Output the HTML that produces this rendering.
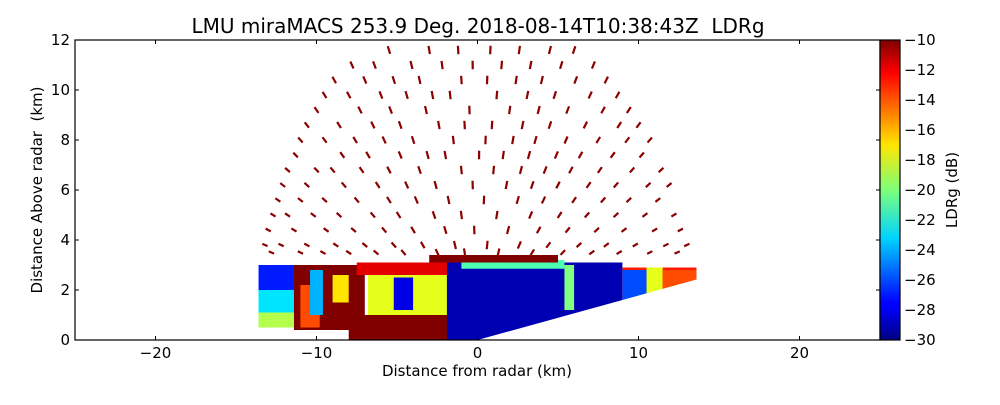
<!DOCTYPE html>
<html><head><meta charset="utf-8">
<style>
body{margin:0;background:#fff;}
svg text{font-family:"DejaVu Sans","Liberation Sans",sans-serif;fill:#000;}
</style></head>
<body>
<svg id="chart" width="1000" height="400" viewBox="0 0 1000 400" xmlns="http://www.w3.org/2000/svg">
<defs>
<linearGradient id="jet" x1="0" y1="1" x2="0" y2="0">
<stop offset="0" stop-color="#00007f"/><stop offset="0.11" stop-color="#0000ff"/>
<stop offset="0.125" stop-color="#0000ff"/><stop offset="0.34" stop-color="#00d4ff"/>
<stop offset="0.5" stop-color="#7dff7a"/><stop offset="0.65" stop-color="#ffe600"/>
<stop offset="0.89" stop-color="#ff0000"/><stop offset="1" stop-color="#7f0000"/>
</linearGradient>
<clipPath id="plotclip"><rect x="75" y="40" width="805" height="300"/></clipPath>
</defs>
<text x="478" y="33" font-size="20" text-anchor="middle" xml:space="preserve">LMU miraMACS 253.9 Deg. 2018-08-14T10:38:43Z&#160; LDRg</text>
<g id="data" clip-path="url(#plotclip)"></g>
<g id="axes"></g>
<rect x="75" y="40" width="805" height="300" fill="none" stroke="#000" stroke-width="1.2"/>
<rect x="880" y="40" width="20" height="300" fill="url(#jet)" stroke="#000" stroke-width="1.2"/>
<text x="477" y="376" font-size="15" text-anchor="middle">Distance from radar (km)</text>
<text transform="translate(42,190) rotate(-90)" font-size="15" text-anchor="middle">Distance Above radar&#160; (km)</text>
<text transform="translate(957,190) rotate(-90)" font-size="15" text-anchor="middle">LDRg (dB)</text>
</svg>
<script>
// axis domains
const xTicks = [-20, -10, 0, 10, 20];
const yTicks = [0, 2, 4, 6, 8, 10, 12];
const cbTicks = [-10, -12, -14, -16, -18, -20, -22, -24, -26, -28, -30];
// low-layer precipitation regions (km) and LDR value (dB)
const layerX0 = [-13.6, -13.6, -13.6, -11.4, -11.0, -10.4, -9.0, -8.0, -6.8, -7.5, -5.2, -1.9, -1.0, 5.4, 9.0, 9.0, 10.5, 11.5, -3.0];
const layerX1 = [-11.4, -11.4, -11.4, -7.0, -9.8, -9.6, -8.0, -1.5, -1.5, -1.5, -4.0, 9.0, 5.4, 6.0, 13.6, 10.5, 11.5, 13.6, 5.0];
const layerY0 = [0.5, 1.1, 2.0, 0.4, 0.5, 1.0, 1.5, 0.0, 1.0, 2.6, 1.2, 0.0, 2.85, 1.2, 1.6, 1.6, 1.6, 1.6, 3.1];
const layerY1 = [1.1, 2.0, 3.0, 3.0, 2.2, 2.8, 2.6, 1.0, 2.6, 3.1, 2.5, 3.1, 3.2, 3.0, 2.9, 2.8, 2.9, 2.8, 3.4];
const layerVal = [-19, -23, -27, -10, -14, -24, -17, -10, -18, -12, -28, -29, -21, -20, -13, -26, -18, -14, -10];
// scattered cloud echoes: rows of heights with x positions (km)
const dashRowsY = [11.6, 11.0, 10.4, 9.8, 9.2, 8.6, 8.0, 7.4, 6.8, 6.2, 5.6, 5.0, 4.4, 3.8, 3.5];
const dashRowsX = [
 [-5.5,-3,-1.2,0.8,2.6,4.5,6],
 [-7.8,-6.4,-4.1,-2.2,-0.3,1.5,3.3,5.2,7.2],
 [-8.9,-7,-5.2,-3.6,-1,0.6,2.4,4,6.1,8],
 [-9.5,-8,-6,-4.4,-2.8,-1.7,1.2,3.1,4.8,7,8.7],
 [-10,-7.3,-5.4,-3.2,-0.5,2,3.8,5.6,7.8,9.4],
 [-10.6,-8.6,-6.5,-4.8,-2.4,-0.8,0.9,2.8,4.5,6.7,8.8,10],
 [-11,-9.5,-7.6,-5.8,-4,-1.5,0.5,2.2,3.6,5.5,7.5,9.3,10.7],
 [-11.3,-8.4,-6.8,-4.8,-3.1,-2,0.1,1.6,3.2,4.9,6.4,8.4,10.2],
 [-11.8,-10,-9,-7.2,-5.5,-3.6,-1,1,2.7,4.2,5.8,7.6,9.6,11.4],
 [-12.1,-10.6,-8.3,-6.2,-4.4,-2.6,-0.3,1.8,3.4,5,6.9,8.6,10.6,11.9],
 [-12.4,-11,-9.5,-7.5,-5.5,-3.8,-1.8,0.4,2.5,4.1,6,7.8,9.4,11.2],
 [-12.7,-11.8,-10.2,-8.6,-6.5,-4.9,-2.7,-1,1.2,3.3,5.1,6.8,8.6,10.4,12.2],
 [-13,-11.4,-9.4,-7.7,-5.8,-4,-2,-0.2,1.9,3.8,5.6,7.4,9.1,11,12.6],
 [-13.2,-12.2,-10.6,-8.8,-7,-5.2,-3.4,-1.4,0.6,2.6,4.4,6.3,8,9.8,11.7,13],
 [-12.8,-11,-9.6,-8,-6.3,-4.6,-2.5,-0.8,1.3,3.4,5.3,7.1,8.8,10.7,12.4]
];
const NS = "http://www.w3.org/2000/svg";
const X = v => 75 + (v + 25) / 50 * 805;
const Y = v => 340 - v / 12 * 300;
const C = v => 340 - (v + 30) / 20 * 300;
function jet(v){
  let t = Math.max(0, Math.min(1, (v + 30) / 20));
  const f = (a) => Math.max(0, Math.min(1, 1.5 - Math.abs(4 * t - a)));
  return `rgb(${Math.round(f(3)*255)},${Math.round(f(2)*255)},${Math.round(f(1)*255)})`;
}
const data = document.getElementById('data');
layerVal.forEach((v, i) => {
  const r = document.createElementNS(NS, 'rect');
  
  
  r.setAttribute('x', X(layerX0[i]));
  r.setAttribute('y', Y(layerY1[i]));
  r.setAttribute('width', X(layerX1[i]) - X(layerX0[i]));
  r.setAttribute('height', Y(layerY0[i]) - Y(layerY1[i]));
  r.setAttribute('fill', jet(v));
  data.appendChild(r);
});
// beam lower boundary (white wedge below lowest elevation)
const w = document.createElementNS(NS, 'polygon');


w.setAttribute('points', `${X(0)},${Y(0)} ${X(13.6)},${Y(2.42)} ${X(14)},${Y(3.5)} ${X(14)},${Y(-1)} ${X(0)},${Y(-1)}`);
w.setAttribute('fill', '#fff');
data.appendChild(w);
dashRowsY.forEach((yy, ri) => {
  dashRowsX[ri].forEach(xx => {
    const a = Math.atan2(yy, xx);
    const l = 0.17;
    const ln = document.createElementNS(NS, 'line');
    
    
    ln.setAttribute('x1', X(xx - Math.cos(a) * l));
    ln.setAttribute('y1', Y(yy - Math.sin(a) * l));
    ln.setAttribute('x2', X(xx + Math.cos(a) * l));
    ln.setAttribute('y2', Y(yy + Math.sin(a) * l));
    ln.setAttribute('stroke', '#8b0000');
    ln.setAttribute('stroke-width', '2.2');
    data.appendChild(ln);
  });
});
const axes = document.getElementById('axes');
function add(tag, attrs, name){
  const e = document.createElementNS(NS, tag);
  
  
  for (const k in attrs) e.setAttribute(k, attrs[k]);
  axes.appendChild(e);
  return e;
}
xTicks.forEach(t => {
  add('line', {x1:X(t), x2:X(t), y1:340, y2:336, stroke:'#000'}, 'x-tick');
  add('line', {x1:X(t), x2:X(t), y1:40, y2:44, stroke:'#000'}, 'x-tick-top');
  const tx = add('text', {x:X(t), y:358, 'font-size':15, 'text-anchor':'middle'}, 'x-tick-label');
  tx.textContent = (t < 0 ? '\u2212' + (-t) : t);
});
yTicks.forEach(t => {
  add('line', {x1:75, x2:79, y1:Y(t), y2:Y(t), stroke:'#000'}, 'y-tick');
  add('line', {x1:880, x2:876, y1:Y(t), y2:Y(t), stroke:'#000'}, 'y-tick-right');
  const tx = add('text', {x:70, y:Y(t) + 5, 'font-size':15, 'text-anchor':'end'}, 'y-tick-label');
  tx.textContent = t;
});
cbTicks.forEach(t => {
  add('line', {x1:900, x2:896, y1:C(t), y2:C(t), stroke:'#000'}, 'colorbar-tick');
  const tx = add('text', {x:904, y:C(t) + 5, 'font-size':15}, 'colorbar-tick-label');
  tx.textContent = '\u2212' + (-t);
});
</script>
</body></html>
